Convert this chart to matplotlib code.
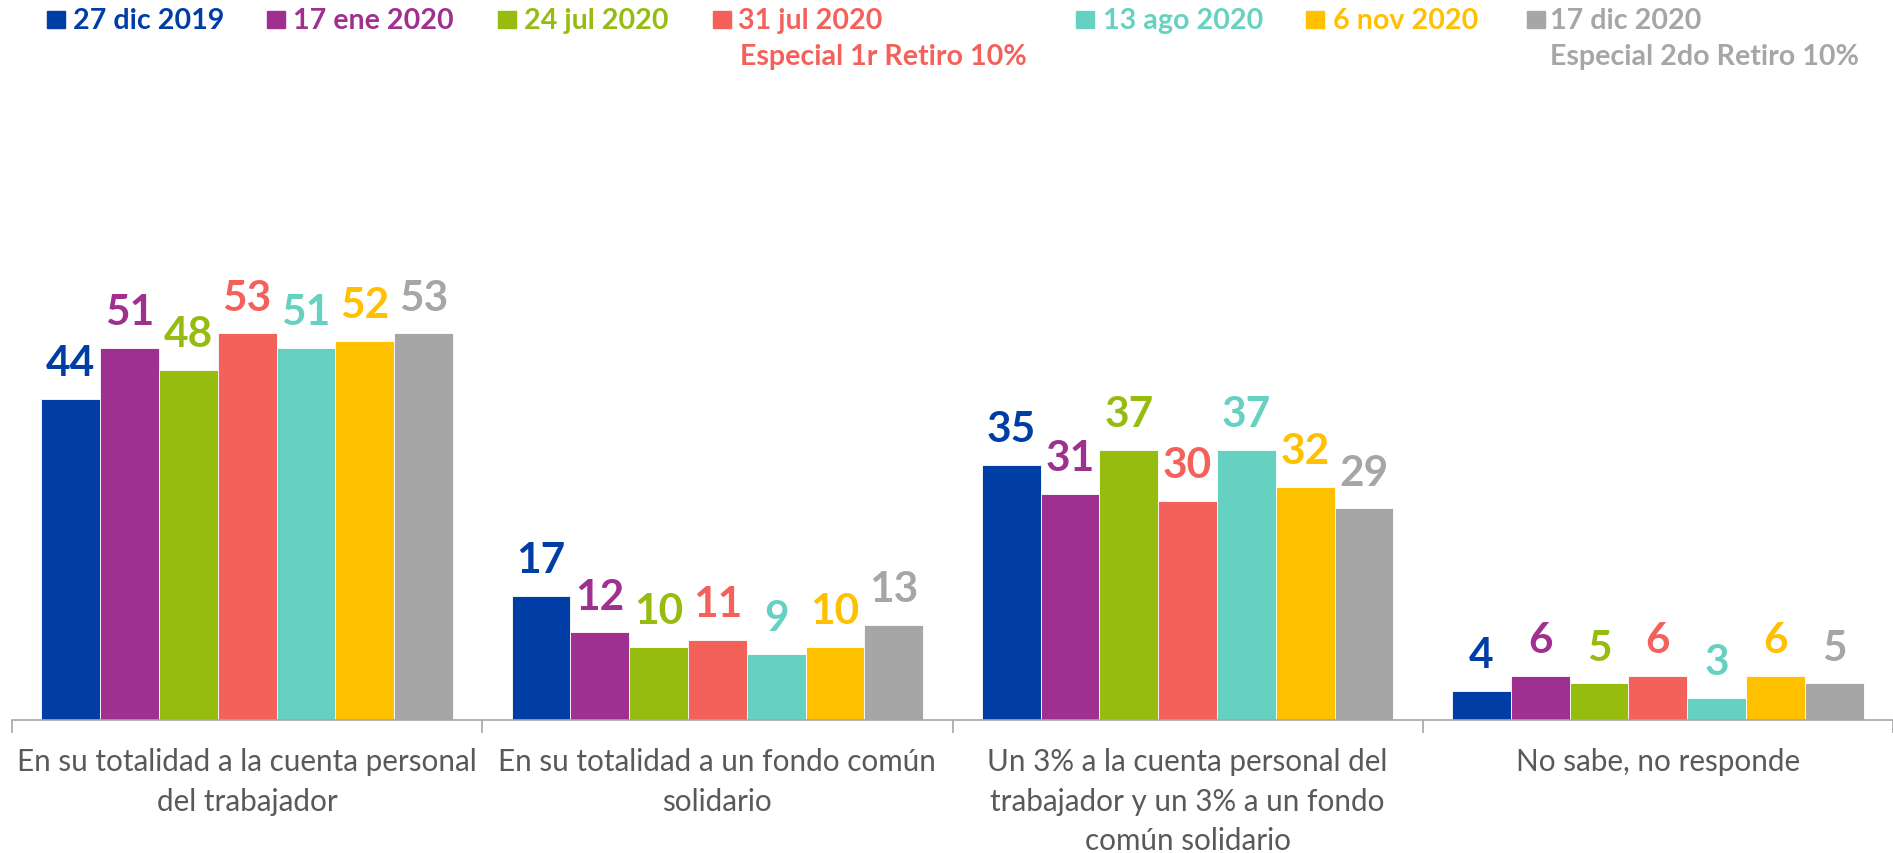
import matplotlib
matplotlib.use("Agg")
import matplotlib.pyplot as plt
from matplotlib.patches import Rectangle
import numpy as np

categories = [
    "En su totalidad a la cuenta personal\ndel trabajador",
    "En su totalidad a un fondo común\nsolidario",
    "Un 3% a la cuenta personal del\ntrabajador y un 3% a un fondo\ncomún solidario",
    "No sabe, no responde",
]
series_names = ["27 dic 2019", "17 ene 2020", "24 jul 2020", "31 jul 2020",
                "13 ago 2020", "6 nov 2020", "17 dic 2020"]
series_sub = ["", "", "", "Especial 1r Retiro 10%", "", "", "Especial 2do Retiro 10%"]
values = [
    [44, 17, 35, 4],
    [51, 12, 31, 6],
    [48, 10, 37, 5],
    [53, 11, 30, 6],
    [51, 9, 37, 3],
    [52, 10, 32, 6],
    [53, 13, 29, 5],
]
colors = ["#003DA5", "#A0308F", "#97BC10", "#F4615B", "#66D1C1", "#FFC000", "#A6A6A6"]

W, H = 1893, 854
fig = plt.figure(figsize=(W / 100, H / 100), dpi=100)
plt.rcParams['font.family'] = ['Lato', 'DejaVu Sans']

ax = fig.add_axes([12 / W, (H - 720.7) / H, (W - 12) / W, 583 / H])
ax.set_xlim(0, 4)
ax.set_ylim(0, 80)

n = len(series_names)
bw = 0.125
x0 = np.arange(len(categories)) + 0.0625
for i, (name, vals, c) in enumerate(zip(series_names, values, colors)):
    xs = x0 + i * bw + bw / 2
    ax.bar(xs, vals, width=bw, color=c, edgecolor="white", linewidth=0.6)
    for x, v in zip(xs, vals):
        ax.annotate(str(v), (x, v), xytext=(0, 12), textcoords="offset points",
                    ha="center", va="bottom", fontsize=30.5, fontweight="bold", color=c)

for s in ["top", "right", "left"]:
    ax.spines[s].set_visible(False)
ax.spines["bottom"].set_color("#A6A6A6")
ax.spines["bottom"].set_linewidth(1.2)
ax.set_yticks([])
ax.set_xticks([0, 1, 2, 3, 4])
ax.set_xticklabels([])
ax.tick_params(axis="x", which="major", length=9, color="#A6A6A6", width=1.2)
ax.set_xticks(np.arange(len(categories)) + 0.5, minor=True)
ax.set_xticklabels(categories, minor=True, fontsize=21.3, color="#595959",
                   linespacing=1.48)
ax.tick_params(axis="x", which="minor", length=0, pad=20)

# legend (pixel positions in the figure)
sq_x = [47, 267, 498, 713, 1076, 1306, 1527]
tx_x = [73, 293, 524, 738, 1103, 1333, 1550]
sub_x = [None, None, None, 740, None, None, 1550]
for i, name in enumerate(series_names):
    fig.patches.append(Rectangle((sq_x[i] / W, (H - 29) / H), 18 / W, 17 / H,
                                 transform=fig.transFigure, color=colors[i]))
    fig.text(tx_x[i] / W, (H - 29) / H, name, ha="left", va="baseline",
             fontsize=20.6, fontweight="bold", color=colors[i])
    if series_sub[i]:
        fig.text(sub_x[i] / W, (H - 65) / H, series_sub[i], ha="left", va="baseline",
                 fontsize=20.6, fontweight="bold", color=colors[i])

fig.savefig("out.png", dpi=100)
